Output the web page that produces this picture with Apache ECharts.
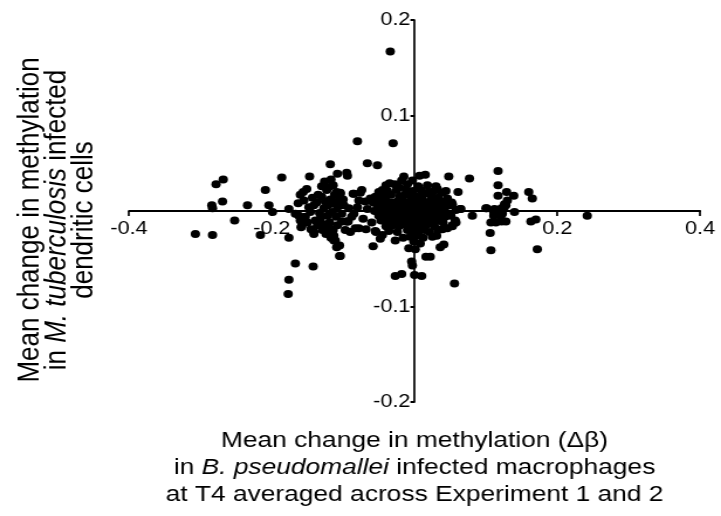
<!DOCTYPE html>
<html>
<head>
<meta charset="utf-8">
<script src="https://cdn.jsdelivr.net/npm/echarts@6/dist/echarts.min.js"></script>
<style>
  html, body { margin: 0; padding: 0; background: #fff; overflow: hidden; }
  /* the source figure is stretched sideways a little, so draw narrower and widen it */
  #chart { width: 616px; height: 516px; transform: scaleX(1.1705); transform-origin: 0 0; }
</style>
</head>
<body>
<div id="chart"></div>
<script>
// axis ticks
var xTicks = [-0.4, -0.2, 0, 0.2, 0.4];
var yTicks = [-0.2, -0.1, 0, 0.1, 0.2];

// sparse / outlying points [B. pseudomallei delta beta, M. tuberculosis delta beta]
var outerPoints = [
    [-0.034, 0.167], [-0.080, 0.073], [-0.030, 0.071], [-0.118, 0.049], [-0.066, 0.050], [-0.052, 0.048],
    [-0.108, 0.039], [-0.095, 0.040], [-0.094, 0.037], [-0.186, 0.035], [-0.147, 0.036], [-0.126, 0.031],
    [-0.278, 0.028], [-0.268, 0.033], [-0.269, 0.010], [-0.284, 0.006], [-0.283, 0.003], [-0.234, 0.006],
    [-0.252, -0.010], [-0.307, -0.024], [-0.283, -0.025], [-0.216, -0.025], [-0.209, 0.022], [-0.204, 0.006],
    [-0.199, -0.001], [-0.176, 0.002], [-0.176, -0.028], [-0.167, -0.055], [-0.176, -0.072], [-0.177, -0.087],
    [-0.142, -0.058], [-0.105, -0.047], [-0.109, -0.038], [-0.113, -0.031], [-0.058, -0.037], [-0.054, -0.022],
    [-0.048, -0.029], [-0.045, -0.025], [-0.027, -0.031], [-0.016, -0.028], [-0.008, -0.039], [0.001, -0.040],
    [-0.004, -0.053], [-0.003, -0.057], [-0.027, -0.068], [-0.018, -0.066], [0.000, -0.067], [0.010, -0.068],
    [0.016, -0.048], [0.022, -0.048], [0.036, -0.038], [0.041, -0.035], [0.056, -0.076], [0.025, -0.027],
    [0.106, -0.023], [0.107, -0.041], [0.172, -0.040], [0.242, -0.005], [0.163, -0.011], [0.170, -0.009],
    [0.160, 0.020], [0.165, 0.013], [0.139, 0.016], [0.117, 0.042], [0.117, 0.027], [0.117, 0.016],
    [0.129, 0.020], [0.126, 0.007], [0.140, -0.001], [0.122, -0.011], [0.128, -0.011], [0.101, 0.003],
    [0.112, 0.002], [0.111, -0.005], [0.122, 0.003], [0.081, -0.005], [0.077, 0.034], [0.048, 0.036],
    [0.061, 0.020], [0.032, 0.023], [0.027, 0.021], [0.049, 0.006], [0.064, 0.002], [0.057, -0.010],
    [0.053, -0.016], [0.015, 0.038], [0.007, 0.037], [-0.015, 0.036], [-0.018, 0.032], [-0.003, 0.032],
    [-0.035, 0.029], [-0.022, 0.025], [-0.045, 0.022], [-0.086, 0.018], [-0.076, 0.019], [-0.069, 0.010],
    [-0.104, 0.019], [-0.093, -0.011], [-0.083, -0.018], [-0.078, -0.018], [-0.097, -0.020], [-0.094, -0.011],
    [-0.102, -0.011], [-0.141, -0.024], [-0.158, -0.016], [-0.163, 0.008], [-0.160, 0.017], [-0.156, 0.020],
    [-0.151, 0.023], [-0.055, -0.021]
];

// group to the right, around 0.1 - 0.13
var rightPoints = [
    [0.130, 0.011], [0.128, 0.006], [0.125, 0.002], [0.123, -0.003], [0.111, -0.001], [0.116, 0.001],
    [0.121, -0.005], [0.107, -0.012], [0.114, -0.012], [0.121, -0.010], [0.100, 0.003],
    [0.041, 0.008], [0.053, 0.007], [0.058, 0.001], [0.065, 0.002], [0.051, -0.005], [0.058, -0.012],
    [0.053, -0.015], [0.039, -0.019], [0.036, -0.008]
];

// group to the left, around -0.12
var leftPoints = [
    [-0.123, 0.022], [-0.120, 0.025], [-0.114, 0.027], [-0.109, 0.020], [-0.104, 0.018], [-0.137, 0.009],
    [-0.141, 0.006], [-0.146, -0.001], [-0.153, -0.006], [-0.160, -0.010], [-0.150, -0.012], [-0.139, -0.010],
    [-0.132, -0.008], [-0.122, -0.005], [-0.115, -0.001], [-0.159, -0.017], [-0.141, -0.022], [-0.129, -0.020],
    [-0.120, -0.017], [-0.113, -0.026], [-0.111, -0.031], [-0.105, -0.036], [-0.104, -0.047], [-0.096, -0.011],
    [-0.085, 0.018], [-0.167, -0.003], [-0.162, -0.005],
    [-0.130, 0.015], [-0.125, 0.010], [-0.118, 0.012], [-0.112, 0.008], [-0.108, 0.004], [-0.127, 0.003],
    [-0.133, -0.002], [-0.119, -0.012], [-0.114, -0.020], [-0.108, -0.015], [-0.102, -0.003], [-0.099, 0.006],
    [-0.128, -0.014], [-0.135, 0.017], [-0.143, 0.014], [-0.148, 0.004], [-0.155, 0.011], [-0.117, 0.033],
    [-0.112, 0.017], [-0.106, 0.011], [-0.124, -0.024], [-0.117, -0.028], [-0.136, -0.015], [-0.145, -0.019],
    [-0.130, 0.026], [-0.121, 0.006], [-0.110, -0.006], [-0.100, 0.012], [-0.092, 0.003], [-0.088, -0.006],
    [-0.085, -0.003], [-0.080, 0.004], [-0.072, -0.008], [-0.066, 0.002], [-0.062, 0.013], [-0.060, -0.012],
    [-0.074, 0.022], [-0.068, -0.019], [-0.078, 0.011], [-0.090, -0.022]
];

// dense cluster round the origin
var centerPoints = [
    [-0.040, 0.027], [-0.028, 0.028], [-0.010, 0.028], [0.005, 0.026], [0.018, 0.027], [0.030, 0.026],
    [-0.050, 0.020], [-0.038, 0.021], [-0.025, 0.022], [-0.012, 0.023], [-0.002, 0.021], [0.009, 0.022],
    [0.020, 0.020], [0.038, 0.019], [0.044, 0.021],
    [-0.055, 0.015], [-0.044, 0.016], [-0.033, 0.017], [-0.021, 0.015], [-0.014, 0.017], [-0.006, 0.016],
    [0.003, 0.015], [0.012, 0.017], [0.024, 0.015], [0.033, 0.014], [0.046, 0.013],
    [-0.058, 0.009], [-0.048, 0.010], [-0.040, 0.011], [-0.031, 0.009], [-0.024, 0.010], [-0.017, 0.011],
    [-0.009, 0.009], [-0.001, 0.010], [0.006, 0.011], [0.014, 0.009], [0.021, 0.010], [0.029, 0.008],
    [0.037, 0.010], [0.052, 0.009],
    [-0.052, 0.004], [-0.043, 0.005], [-0.036, 0.004], [-0.028, 0.006], [-0.020, 0.005], [-0.013, 0.004],
    [-0.005, 0.006], [0.002, 0.004], [0.009, 0.005], [0.017, 0.006], [0.025, 0.004], [0.033, 0.003],
    [0.042, 0.004],
    [-0.056, 0.000], [-0.046, -0.001], [-0.039, 0.001], [-0.031, 0.000], [-0.023, -0.001], [-0.016, 0.001],
    [-0.008, 0.000], [0.000, -0.001], [0.007, 0.001], [0.013, 0.000], [0.020, -0.001], [0.028, 0.001],
    [0.036, 0.000], [0.045, -0.002],
    [-0.050, -0.005], [-0.041, -0.006], [-0.034, -0.004], [-0.026, -0.005], [-0.019, -0.006], [-0.011, -0.004],
    [-0.004, -0.006], [0.004, -0.005], [0.011, -0.004], [0.018, -0.006], [0.026, -0.005], [0.034, -0.004],
    [0.043, -0.006],
    [-0.047, -0.010], [-0.037, -0.011], [-0.029, -0.009], [-0.021, -0.011], [-0.013, -0.010], [-0.006, -0.009],
    [0.001, -0.011], [0.008, -0.010], [0.016, -0.009], [0.023, -0.011], [0.031, -0.010], [0.040, -0.012],
    [-0.040, -0.016], [-0.031, -0.015], [-0.022, -0.016], [-0.014, -0.014], [-0.006, -0.016], [0.002, -0.015],
    [0.010, -0.016], [0.018, -0.014], [0.028, -0.016], [0.046, -0.018],
    [-0.036, -0.021], [-0.024, -0.022], [-0.010, -0.020], [-0.002, -0.022], [0.006, -0.021], [0.014, -0.020],
    [0.021, -0.022], [0.033, -0.020],
    [-0.006, -0.027], [0.004, -0.026], [0.012, -0.028], [-0.001, -0.032], [0.008, -0.034], [0.031, -0.026],
    [-0.012, 0.002], [-0.004, 0.012], [0.004, -0.002], [0.010, 0.013], [-0.015, -0.007], [0.016, 0.003],
    [-0.007, 0.019], [0.000, 0.007], [0.005, -0.008], [-0.019, 0.013]
];

var allPoints = outerPoints.concat(rightPoints, leftPoints, centerPoints);

var chart = echarts.init(document.getElementById('chart'));
var font = 'Liberation Sans, Arial, sans-serif';
var sx = 1.1705; // sideways stretch applied by css

// plot box (in unstretched units); the axes cross at zero in its middle
var gridLeft = 129 / sx, gridRight = 21 / sx, gridTop = 20, gridBottom = 114;
var gridW = 616 - gridLeft - gridRight;
var gridH = 516 - gridTop - gridBottom;

function tickLabel(v) {
    return v === 0 ? '' : String(v);
}

var option = {
    animation: false,
    backgroundColor: '#fff',
    grid: { left: gridLeft, right: gridRight, top: gridTop, bottom: gridBottom },
    xAxis: {
        type: 'value',
        position: 'bottom',
        offset: -gridH / 2,
        min: xTicks[0],
        max: xTicks[xTicks.length - 1],
        interval: 0.2,
        axisLine: { onZero: false, lineStyle: { color: '#000', width: 2 } },
        axisTick: { length: 5, lineStyle: { color: '#000', width: 1.7 } },
        axisLabel: { color: '#000', fontFamily: font, fontSize: 18.5, margin: 8, formatter: tickLabel },
        splitLine: { show: false }
    },
    yAxis: {
        type: 'value',
        position: 'left',
        offset: -gridW / 2,
        min: yTicks[0],
        max: yTicks[yTicks.length - 1],
        interval: 0.1,
        axisLine: { onZero: false, lineStyle: { color: '#000', width: 1.7 } },
        axisTick: { length: 3.5, lineStyle: { color: '#000', width: 2 } },
        axisLabel: { color: '#000', fontFamily: font, fontSize: 18.5, margin: 3.5, formatter: tickLabel },
        splitLine: { show: false }
    },
    series: [{
        type: 'scatter',
        symbol: 'circle',
        symbolSize: 8,
        itemStyle: { color: '#000', opacity: 1 },
        data: allPoints
    }],
    graphic: [{
        type: 'text',
        x: gridLeft + gridW / 2,
        y: 427,
        style: {
            text: '{n|Mean change in methylation (Δβ)}\n{n|in }{i|B. pseudomallei}{n| infected macrophages}\n{n|at T4 averaged across Experiment 1 and 2}',
            align: 'center',
            verticalAlign: 'top',
            rich: {
                n: { fontFamily: font, fontSize: 22.5, lineHeight: 27, fill: '#000' },
                i: { fontFamily: font, fontSize: 22.5, lineHeight: 27, fontStyle: 'italic', fill: '#000' }
            }
        }
    }, {
        type: 'text',
        x: 57 / sx,
        y: 220,
        rotation: Math.PI / 2,
        style: {
            text: '{n|Mean change in methylation}\n{n|in }{i|M. tuberculosis}{n| infected}\n{n|dendritic cells}',
            align: 'center',
            verticalAlign: 'middle',
            rich: {
                n: { fontFamily: font, fontSize: 26, lineHeight: 27 / sx, fill: '#000' },
                i: { fontFamily: font, fontSize: 26, lineHeight: 27 / sx, fontStyle: 'italic', fill: '#000' }
            }
        }
    }]
};

chart.setOption(option);
</script>
</body>
</html>
